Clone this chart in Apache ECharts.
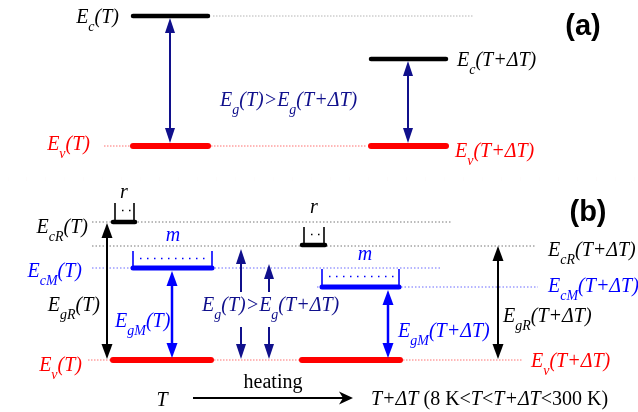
<!DOCTYPE html>
<html><head><meta charset="utf-8">
<script src="https://cdn.jsdelivr.net/npm/echarts@6/dist/echarts.min.js"></script>
<style>html,body{margin:0;padding:0;background:#fff}#c{width:638px;height:412px}</style>
</head><body><div id="c"></div>
<script>
// ---------- diagram data (x to the right, y = energy position, drawn downward) ----------
// level bars: [xStart, xEnd, level]
const blackLevels = [[133,208,16],[371,446,59],[113,135,222],[302,325,245]];
const redLevels   = [[133,208,146],[371,446,146],[113,211,360],[302,400,360]];
const blueLevels  = [[133,212,268],[322,399,287]];
// dotted guide lines: [xStart, xEnd, level]
const greyGuidesA = [[213,473,16]];
const greyGuidesB = [[92,451,222],[92,536,246]];
const redGuides   = [[104,133,146],[208,367,146],[88,113,360],[211,302,360],[400,523,360]];
const blueGuides  = [[92,440,268],[317,538,287]];
// vertical arrows: [x, from, to, headAtFrom, headAtTo]
const navyArrows  = [[170,18,143,1,1],[408,61,143,1,1],[241,292,249,0,1],[269,292,264,0,1],[241,327,359,0,1],[269,327,359,0,1]];
const blackArrows = [[107,223,359,1,1],[498,246,359,1,1]];
const blueArrows  = [[172,271,358,1,1],[388,290,358,1,1]];
// heating arrow: [xStart, xEnd, level]
const heatingArrow = [[193,353,398]];
// brackets: [xLeft, xRight, top, bottom]
const rBoxes = [[115,134,203,222],[304,324,227,245]];
const mBoxes = [[133,212,251,268],[322,399,269,287]];
// panel separator: [xStart, xEnd, level]
const separator = [[8,636,179]];
// labels with subscripts: [rich text, x, y, anchor, colour]
const richLabels = [
  ['{e|E}{s|c}{e|(T)}', 119, 18, 'right', 'black'],
  ['{e|E}{s|v}{e|(T)}', 90, 145, 'right', 'red'],
  ['{e|E}{s|g}{e|(T)>E}{s|g}{e|(T+ΔT)}', 220, 101, 'left', 'navy'],
  ['{e|E}{s|c}{e|(T+ΔT)}', 457, 61, 'left', 'black'],
  ['{e|E}{s|v}{e|(T+ΔT)}', 455, 152, 'left', 'red'],
  ['{e|E}{s|cR}{e|(T)}', 88, 228, 'right', 'black'],
  ['{e|E}{s|cM}{e|(T)}', 82, 272, 'right', 'blue'],
  ['{e|E}{s|gR}{e|(T)}', 100, 306, 'right', 'black'],
  ['{e|E}{s|gM}{e|(T)}', 115, 322, 'left', 'blue'],
  ['{e|E}{s|v}{e|(T)}', 82, 366, 'right', 'red'],
  ['{e|E}{s|g}{e|(T)>E}{s|g}{e|(T+ΔT)}', 202, 306, 'left', 'navy'],
  ['{e|E}{s|gM}{e|(T+ΔT)}', 398, 332, 'left', 'blue'],
  ['{e|E}{s|gR}{e|(T+ΔT)}', 503, 317, 'left', 'black'],
  ['{e|E}{s|cR}{e|(T+ΔT)}', 548, 251, 'left', 'black'],
  ['{e|E}{s|cM}{e|(T+ΔT)}', 548, 287, 'left', 'blue'],
  ['{e|E}{s|v}{e|(T+ΔT)}', 531, 362, 'left', 'red'],
  ['{e|T+ΔT} {r|(8 K<}{e|T}{r|<}{e|T+ΔT}{r|<300 K)}', 371, 400, 'left', 'black']
];
// simple centred labels: [text, x, y, kind]
const plainLabels = [
  ['(a)', 583, 27, 'panel'],
  ['(b)', 588, 213, 'panel'],
  ['r', 124, 193, 'italicBlack'],
  ['r', 314, 208, 'italicBlack'],
  ['m', 173, 236, 'italicBlue'],
  ['m', 365, 255, 'italicBlue'],
  ['heating', 273, 383, 'roman'],
  ['T', 162, 401, 'italicBlack']
];

// ---------- styles ----------
const NAVY = '#10108c', BLUE = '#0000ff', RED = '#ff0000', BLACK = '#000000';
const colourOf = {black: BLACK, red: RED, blue: BLUE, navy: NAVY};
const SERIF = 'Liberation Serif';
const rich = {
  e: {fontFamily: SERIF, fontStyle: 'italic', fontSize: 20, height: 20, lineHeight: 30, verticalAlign: 'top'},
  s: {fontFamily: SERIF, fontStyle: 'italic', fontSize: 14, height: 38, lineHeight: 30, verticalAlign: 'top'},
  r: {fontFamily: SERIF, fontStyle: 'normal', fontSize: 20, height: 20, lineHeight: 30, verticalAlign: 'top'}
};
const plainStyles = {
  panel: {fontFamily: 'Liberation Sans', fontWeight: 'bold', fontSize: 29, fill: BLACK},
  italicBlack: {fontFamily: SERIF, fontStyle: 'italic', fontSize: 20, fill: BLACK},
  italicBlue: {fontFamily: SERIF, fontStyle: 'italic', fontSize: 20, fill: BLUE},
  roman: {fontFamily: SERIF, fontSize: 20, fill: BLACK}
};

function segSeries(data, color, width, dash, z) {
  return {type: 'custom', silent: true, z: z, data: data,
    renderItem: function (p, api) {
      const a = api.coord([api.value(0), api.value(2)]);
      const b = api.coord([api.value(1), api.value(2)]);
      return {type: 'line', shape: {x1: a[0], y1: a[1], x2: b[0], y2: b[1]},
        style: {stroke: color, lineWidth: width, lineCap: dash ? 'butt' : 'round', lineDash: dash || null}};
    }};
}
function arrowSeries(data, color, width, hl, hw) {
  return {type: 'custom', silent: true, z: 5, data: data,
    renderItem: function (p, api) {
      const x = api.value(0);
      const s = api.coord([x, api.value(1)]), e = api.coord([x, api.value(2)]);
      const dir = e[1] > s[1] ? 1 : -1;
      const head = function (tip, pd) {
        return {type: 'polygon', shape: {points: [[tip[0], tip[1]], [tip[0] - hw / 2, tip[1] - pd * hl], [tip[0] + hw / 2, tip[1] - pd * hl]]},
          style: {fill: color}};
      };
      const kids = [];
      let y1 = s[1], y2 = e[1];
      if (api.value(3)) { kids.push(head(s, -dir)); y1 += dir * hl * 0.7; }
      if (api.value(4)) { kids.push(head(e, dir)); y2 -= dir * hl * 0.7; }
      kids.unshift({type: 'line', shape: {x1: s[0], y1: y1, x2: s[0], y2: y2}, style: {stroke: color, lineWidth: width}});
      return {type: 'group', children: kids};
    }};
}
function boxSeries(data, color) {
  return {type: 'custom', silent: true, z: 4, data: data,
    renderItem: function (p, api) {
      const tl = api.coord([api.value(0), api.value(2)]), bl = api.coord([api.value(0), api.value(3)]);
      const tr = api.coord([api.value(1), api.value(2)]), br = api.coord([api.value(1), api.value(3)]);
      const st = {stroke: color, lineWidth: 1.6};
      return {type: 'group', children: [
        {type: 'line', shape: {x1: tl[0], y1: tl[1], x2: bl[0], y2: bl[1]}, style: st},
        {type: 'line', shape: {x1: tr[0], y1: tr[1], x2: br[0], y2: br[1]}, style: st},
        {type: 'line', shape: {x1: tl[0] + 7, y1: tl[1] + 7.5, x2: tr[0] - 3, y2: tl[1] + 7.5},
          style: {stroke: color, lineWidth: 1.6, lineDash: [1.5, 5.5]}}
      ]};
    }};
}

const series = [
  segSeries(greyGuidesA, '#b4b4b4', 1, [1.5, 1.5], 1),
  segSeries(greyGuidesB, '#777777', 1, [1.5, 2], 1),
  segSeries(redGuides, '#ff7070', 1, [1.5, 1.5], 1),
  segSeries(blueGuides, '#6a6aff', 1, [1.5, 2], 1),
  segSeries(separator, RED, 4, [0.01, 18.98], 1),
  segSeries(blackLevels, BLACK, 4.5, null, 3),
  segSeries(redLevels, RED, 6, null, 3),
  segSeries(blueLevels, BLUE, 5, null, 3),
  boxSeries(rBoxes, BLACK),
  boxSeries(mBoxes, BLUE),
  arrowSeries(navyArrows, NAVY, 2, 15, 10),
  arrowSeries(blackArrows, BLACK, 2, 15, 11),
  arrowSeries(blueArrows, BLUE, 2.5, 15, 11),
  {type: 'custom', silent: true, z: 5, data: heatingArrow,
    renderItem: function (p, api) {
      const a = api.coord([api.value(0), api.value(2)]), b = api.coord([api.value(1), api.value(2)]);
      return {type: 'group', children: [
        {type: 'line', shape: {x1: a[0], y1: a[1], x2: b[0] - 6, y2: b[1]}, style: {stroke: BLACK, lineWidth: 2}},
        {type: 'polygon', shape: {points: [[b[0], b[1]], [b[0] - 14, b[1] - 6.5], [b[0] - 10, b[1]], [b[0] - 14, b[1] + 6.5]]}, style: {fill: BLACK}}
      ]};
    }},
  {type: 'custom', silent: true, z: 6, data: richLabels.map(function (l) { return [l[1], l[2]]; }),
    renderItem: function (p, api) {
      const l = richLabels[p.dataIndex];
      const pt = api.coord([api.value(0), api.value(1)]);
      return {type: 'text', x: pt[0], y: pt[1] - 10,
        style: {text: l[0], rich: rich, fill: colourOf[l[4]], align: l[3], verticalAlign: 'top',
          fontFamily: SERIF, fontSize: 20, fontStyle: 'italic'}};
    }},
  {type: 'custom', silent: true, z: 6, data: plainLabels.map(function (l) { return [l[1], l[2]]; }),
    renderItem: function (p, api) {
      const l = plainLabels[p.dataIndex];
      const pt = api.coord([api.value(0), api.value(1)]);
      return {type: 'text', x: pt[0], y: pt[1],
        style: Object.assign({text: l[0], align: 'center', verticalAlign: 'middle'}, plainStyles[l[3]])};
    }}
];

const chart = echarts.init(document.getElementById('c'));
chart.setOption({
  backgroundColor: '#ffffff',
  animation: false,
  grid: {left: 0, right: 0, top: 0, bottom: 0},
  xAxis: {type: 'value', min: 0, max: 638, show: false},
  yAxis: {type: 'value', min: 0, max: 412, inverse: true, show: false},
  series: series
});
</script>
</body></html>
